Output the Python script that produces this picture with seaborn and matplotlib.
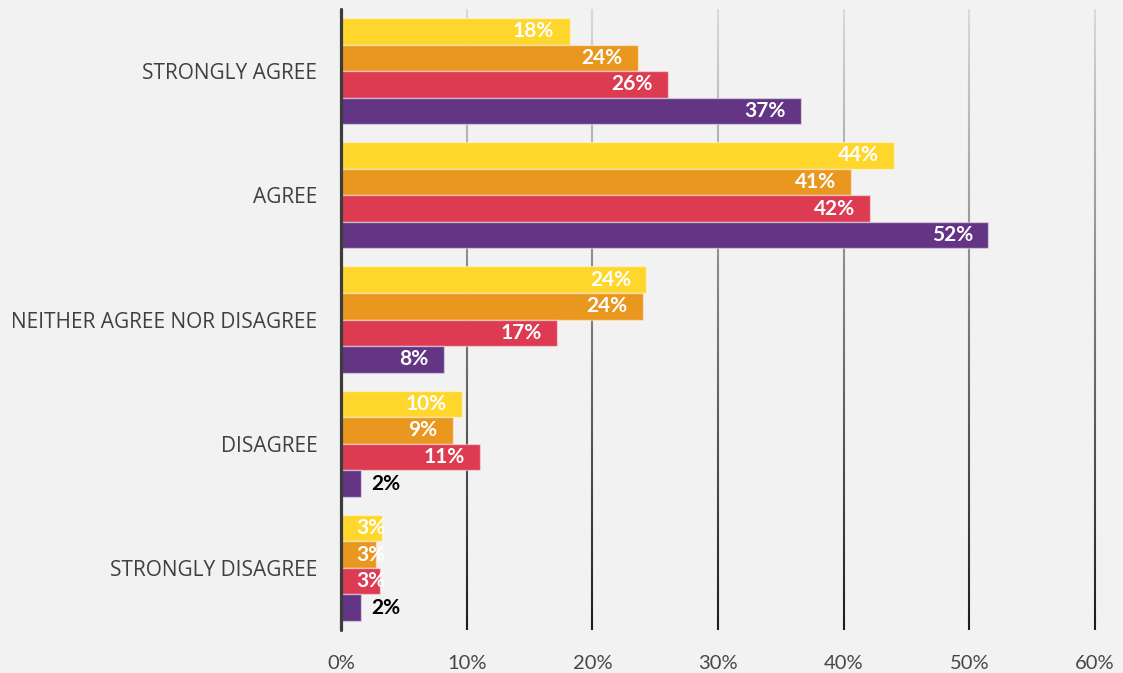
import numpy as np
import pandas as pd
import matplotlib
matplotlib.use("Agg")
import matplotlib.pyplot as plt
from matplotlib.collections import LineCollection
from matplotlib.colors import to_rgb
import seaborn as sns

# Survey responses (percent of respondents) for four groups
categories = ["STRONGLY AGREE", "AGREE", "NEITHER AGREE NOR DISAGREE",
              "DISAGREE", "STRONGLY DISAGREE"]
series_names = ["Group 1", "Group 2", "Group 3", "Group 4"]
group1 = [18.2, 44.0, 24.3, 9.6, 3.3]
group2 = [23.6, 40.6, 24.0, 8.9, 2.8]
group3 = [26.0, 42.1, 17.2, 11.1, 3.1]
group4 = [36.6, 51.5, 8.2, 1.6, 1.6]
x_ticks = [0, 10, 20, 30, 40, 50, 60]

palette = ["#FFD62B", "#E9971F", "#DC3B52", "#643585"]
bg = "#F2F2F2"

rows = []
for name, vals in zip(series_names, [group1, group2, group3, group4]):
    for cat, v in zip(categories, vals):
        rows.append({"response": cat, "series": name, "value": v})
df = pd.DataFrame(rows)

sns.set_theme(style="white", rc={"axes.facecolor": bg, "figure.facecolor": bg})
plt.rcParams["font.family"] = ["Lato", "DejaVu Sans"]

fig = plt.figure(figsize=(11.23, 6.73), dpi=100)
ax = fig.add_axes([341 / 1123, 43 / 673, (1095 - 341) / 1123, 621 / 673])

sns.barplot(data=df, y="response", x="value", hue="series", orient="h",
            order=categories, hue_order=series_names, palette=palette,
            saturation=1, width=0.855, dodge=True, errorbar=None,
            edgecolor=(1, 1, 1, 0.45), linewidth=1.0, legend=False, ax=ax)

ax.set_xlim(0, 60)
ax.set_xticks(x_ticks)
ax.set_xticklabels([f"{t}%" for t in x_ticks], fontsize=14.5, color="#474747")
ax.tick_params(axis="x", length=0, pad=18)
ax.tick_params(axis="y", length=0, pad=17)
for lab in ax.get_yticklabels():
    lab.set_fontfamily(["Open Sans", "DejaVu Sans"])
    lab.set_fontsize(15)
    lab.set_color("#404040")
ax.set_xlabel("")
ax.set_ylabel("")
for s in ax.spines.values():
    s.set_visible(False)

# Vertical gridlines shaded light at the top to dark at the bottom
top_c = np.array(to_rgb("#DADADA"))
bot_c = np.array(to_rgb("#1C1C1C"))
n = 80
ys = np.linspace(0, 1, n + 1)
for t in x_ticks[1:]:
    segs = [[(t, ys[i]), (t, ys[i + 1])] for i in range(n)]
    cols = [bot_c + (top_c - bot_c) * ((ys[i] + ys[i + 1]) / 2) for i in range(n)]
    lc = LineCollection(segs, colors=cols, linewidths=1.5,
                        transform=ax.get_xaxis_transform(), zorder=0.5,
                        clip_on=False)
    ax.add_collection(lc)

# Value axis baseline
ax.axvline(0, color="#3C3C3C", lw=2.3, zorder=3, clip_on=False)

# Data labels
label_kw = dict(textcoords="offset points", va="center", fontsize=15,
                fontweight="bold", zorder=4)
for container in ax.containers:
    for patch in container:
        v = patch.get_width()
        yc = patch.get_y() + patch.get_height() / 2
        text = f"{v:.0f}%"
        if v < 2.5:
            ax.annotate(text, (v, yc), xytext=(7, 0), ha="left",
                        color="black", **label_kw)
        elif v < 5:
            ax.annotate(text, (0, yc), xytext=(11, 0), ha="left",
                        color="white", **label_kw)
        else:
            ax.annotate(text, (v, yc), xytext=(-11, 0), ha="right",
                        color="white", **label_kw)

fig.savefig("out.png", dpi=100, facecolor=bg)
